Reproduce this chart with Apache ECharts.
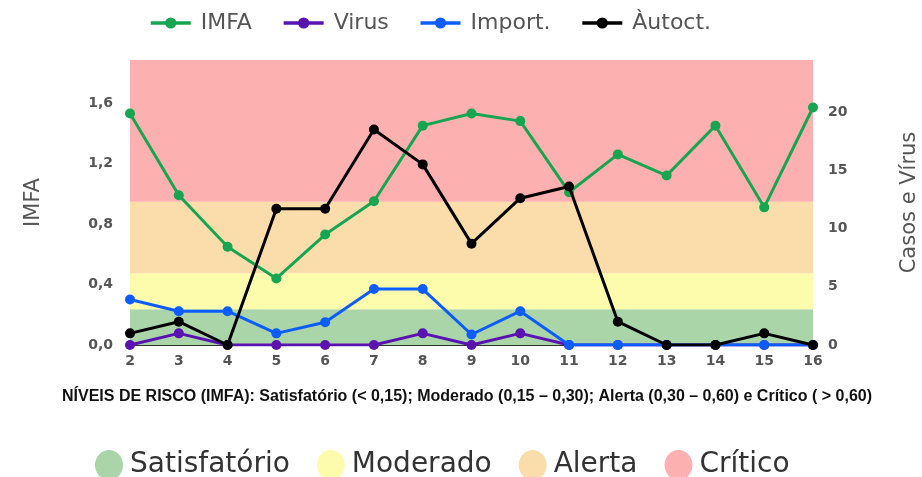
<!DOCTYPE html>
<html>
<head>
<meta charset="utf-8">
<script src="https://cdn.jsdelivr.net/npm/echarts@6/dist/echarts.min.js"></script>
<style>
html,body{margin:0;padding:0;background:#fff;}
#chart{width:922px;height:477px;}
</style>
</head>
<body>
<div id="chart"></div>
<script>
// ---- data ----
var categories = ['2','3','4','5','6','7','8','9','10','11','12','13','14','15','16'];
var imfa       = [1.53, 0.99, 0.65, 0.44, 0.73, 0.95, 1.45, 1.53, 1.48, 1.01, 1.26, 1.12, 1.45, 0.91, 1.57];
var virus      = [0, 1, 0, 0, 0, 0, 1, 0, 1, 0, 0, 0, 0, 0, 0];
var importados = [3.9, 2.9, 2.9, 1, 1.95, 4.8, 4.8, 0.9, 2.9, 0, 0, 0, 0, 0, 0];
var autoctones = [1, 2, 0, 11.7, 11.7, 18.5, 15.5, 8.7, 12.6, 13.6, 2, 0, 0, 1, 0];
var seriesNames = ['IMFA', 'Virus', 'Import.', 'Àutoct.'];
var riskNames  = ['Satisfatório', 'Moderado', 'Alerta', 'Crítico'];
var riskLimits = [0, 0.15, 0.30, 0.60, 1.193];
var noteText = 'NÍVEIS DE RISCO (IMFA): Satisfatório (< 0,15); Moderado (0,15 – 0,30); Alerta (0,30 – 0,60) e Crítico ( > 0,60)';

// ---- styles ----
var lineColors = ['#16a651', '#5a12b0', '#0d5cff', '#000000'];
var riskColors = ['#a9d5a9', '#fdfcac', '#fbdcab', '#fdb0b0'];

var chart = echarts.init(document.getElementById('chart'), null, {renderer: 'canvas'});

function fmtComma(v) { return v.toFixed(1).replace('.', ','); }

var series = [];
riskNames.forEach(function (n, i) {
  series.push({
    name: n,
    type: 'line',
    yAxisIndex: 2,
    data: [],
    z: 1,
    color: riskColors[i],
    markArea: {
      silent: true,
      itemStyle: {color: riskColors[i], opacity: 1},
      data: [[{yAxis: riskLimits[i]}, {yAxis: riskLimits[i + 1]}]]
    }
  });
});
var lineData = [imfa, virus, importados, autoctones];
lineData.forEach(function (d, i) {
  series.push({
    name: seriesNames[i],
    type: 'line',
    yAxisIndex: i === 0 ? 0 : 1,
    data: d,
    z: 3 + i,
    symbol: 'circle',
    symbolSize: 10,
    color: lineColors[i],
    lineStyle: {width: 3, color: lineColors[i]},
    itemStyle: {color: lineColors[i]},
    emphasis: {disabled: true}
  });
});

var ellipse = 'path://M14,0 C21.7,0 28,6.7 28,15 C28,23.3 21.7,30 14,30 C6.3,30 0,23.3 0,15 C0,6.7 6.3,0 14,0 Z';

var option = {
  animation: false,
  textStyle: {fontFamily: 'DejaVu Sans'},
  grid: {left: 130, right: 109, top: 60, bottom: 132, containLabel: false, outerBoundsMode: 'none'},
  legend: [
    {
      data: seriesNames,
      left: 144, top: 7,
      itemWidth: 40, itemHeight: 14, itemGap: 30,
      lineStyle: {width: 3.5},
      textStyle: {fontSize: 22, color: '#555', fontFamily: 'DejaVu Sans', padding: [0, 0, 0, 5]}
    },
    {
      data: riskNames.map(function (n, i) { return {name: n, icon: ellipse, itemStyle: {color: riskColors[i]}}; }),
      left: 90, top: 445,
      itemWidth: 28, itemHeight: 30, itemGap: 27,
      textStyle: {fontSize: 28, color: '#333', fontFamily: 'DejaVu Sans', padding: [0, 0, 0, 2]}
    }
  ],
  xAxis: {
    type: 'category',
    data: categories,
    boundaryGap: false,
    axisLine: {show: true, lineStyle: {color: '#333', width: 1}},
    axisTick: {show: false},
    axisLabel: {margin: 9, fontSize: 14, fontWeight: 'bold', color: '#555'},
    splitLine: {show: false}
  },
  yAxis: [
    {
      type: 'value', min: 0, max: 1.884, interval: 0.4,
      name: 'IMFA', nameLocation: 'middle', nameRotate: 90, nameGap: 86,
      nameTextStyle: {fontSize: 21, color: '#555'},
      axisLine: {show: false}, axisTick: {show: false}, splitLine: {show: false},
      axisLabel: {margin: 17, fontSize: 14, fontWeight: 'bold', color: '#555', showMaxLabel: false,
        formatter: function (v) { return fmtComma(v); }}
    },
    {
      type: 'value', min: 0, max: 24.46, interval: 5, position: 'right',
      name: 'Casos e Vírus', nameLocation: 'middle', nameRotate: 90, nameGap: 86,
      nameTextStyle: {fontSize: 21, color: '#555'},
      axisLine: {show: false}, axisTick: {show: false}, splitLine: {show: false},
      axisLabel: {margin: 15, fontSize: 14, fontWeight: 'bold', color: '#555', showMaxLabel: false}
    },
    {
      type: 'value', min: 0, max: riskLimits[4], show: false
    }
  ],
  graphic: [
    {
      type: 'text', x: 467, y: 397,
      style: {text: noteText, font: 'bold 16px "Liberation Sans", Arial, sans-serif', fill: '#111',
        align: 'center', verticalAlign: 'middle'}
    }
  ],
  series: series
};
chart.setOption(option);
</script>
</body>
</html>
